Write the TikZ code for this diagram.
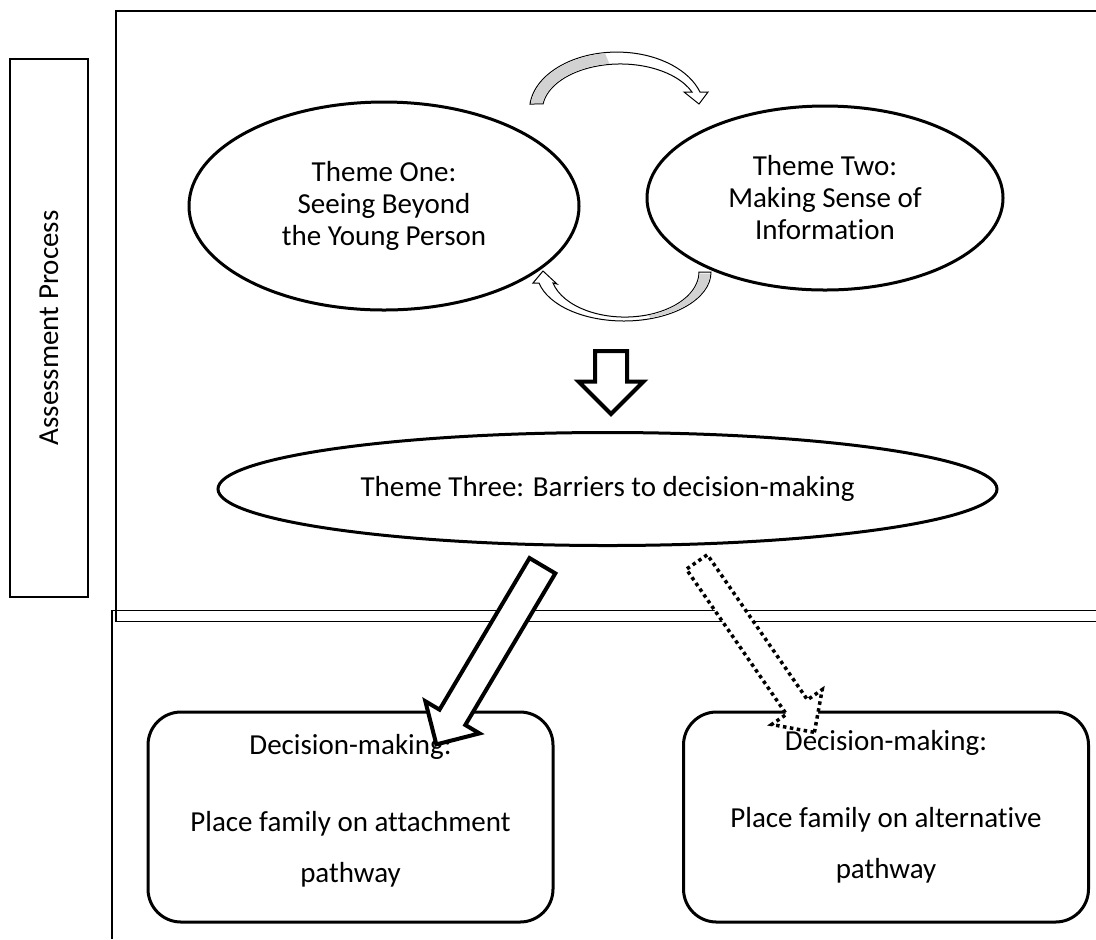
\documentclass[tikz,border=0pt]{standalone}
\usepackage{fontspec}
\setmainfont{Carlito}[Ligatures=NoCommon]
\usetikzlibrary{shapes.geometric,shapes.arrows,calc}

\begin{document}
\begin{tikzpicture}[x=0.5pt,y=-0.5pt,
    txt/.style={font=\fontsize{14.5}{16}\selectfont},
    theme/.style={ellipse, draw, line width=1.5pt, align=center, inner sep=0pt, txt},
    decision/.style={draw, line width=1.5pt, rounded corners=16.5pt, minimum width=202.5pt, minimum height=105pt},
    decisiontext/.style={align=center, font=\fontsize{14.5}{25.5}\selectfont},
    block/.style={single arrow, draw, fill=white, line width=2pt, inner xsep=0pt, single arrow tip angle=90},
    panel/.style={line width=0.6pt},
    swirl/.style={draw, line width=0.5pt, fill=white}]
  \useasboundingbox (0,0) rectangle (1096,939);

  % the two panels and the side label
  \draw[panel] (1096,11) -- (116,11) -- (116,621.5) -- (1096,621.5);
  \draw[panel] (1096,610.7) -- (112,610.7) -- (112,939);
  \node[panel, draw, rotate=90, minimum width=269pt, minimum height=39pt, txt] (proc) at (49,328) {Assessment Process};

  \node[theme, minimum width=195pt, minimum height=104pt] (one) at (384,206) {Theme One:\\Seeing Beyond\\the Young Person};
  \node[theme, minimum width=178pt, minimum height=92pt] (two) at (825,198) {Theme Two:\\Making Sense of\\Information};
  \node[theme, minimum width=389.5pt, minimum height=56.5pt] (three) at (607.5,489) {Theme Three: Barriers to decision-making};

  % curved arrows going round between one and two
  \draw[swirl] (530,104) arc[start angle=186, end angle=342, x radius=87.4, y radius=58]
    -- (708,92) -- (699,104) -- (684,92) -- (692,92)
    arc[start angle=337, end angle=187.5, x radius=77.9, y radius=46] -- cycle;
  \fill[gray!35] ($(617,110)+(187:86.7 and 57.3)$) arc[start angle=187, end angle=262, x radius=86.7, y radius=57.3]
    -- ($(620.3,110)+(262:78.6 and 46.7)$) arc[start angle=262, end angle=188.5, x radius=78.6, y radius=46.7] -- cycle;
  \draw[swirl] (711,272) arc[start angle=0, end angle=167, x radius=87.1, y radius=49]
    -- (533,283) -- (543,271) -- (557,284) -- (553,283)
    arc[start angle=165.9, end angle=0, x radius=74.1, y radius=45] -- cycle;
  \fill[gray!35] ($(623.9,272)+(2:86.4 and 48.3)$) arc[start angle=2, end angle=72, x radius=86.4, y radius=48.3]
    -- ($(624.9,272)+(72:74.8 and 45.7)$) arc[start angle=72, end angle=2, x radius=74.8, y radius=45.7] -- cycle;

  \node[decision] (attach) at (350.5,817) {};
  \node[decision] (alt) at (886,817) {};
  \node[decisiontext] at ([yshift=3pt]attach.center) {Decision-making:\\[13pt]Place family on attachment\\pathway};
  \node[decisiontext] at ([yshift=5pt]alt.center) {Decision-making:\\[13pt]Place family on alternative\\pathway};

  % block arrows
  \node[block, rotate=-90, minimum height=31.5pt, inner ysep=7pt, single arrow head extend=8.25pt] (down) at (611,374.5) {};
  \node[block, rotate=239.3, minimum height=103.9pt, inner ysep=6.5pt, single arrow head extend=8.25pt] (toattach) at (493.2,648.6) {};
  \node[block, line width=1.75pt, dash pattern=on 1.75pt off 1.75pt, rotate=-55.4, minimum height=103.5pt, inner ysep=5.5pt, single arrow head extend=9pt] (toalt) at (752,641.9) {};
\end{tikzpicture}
\end{document}
